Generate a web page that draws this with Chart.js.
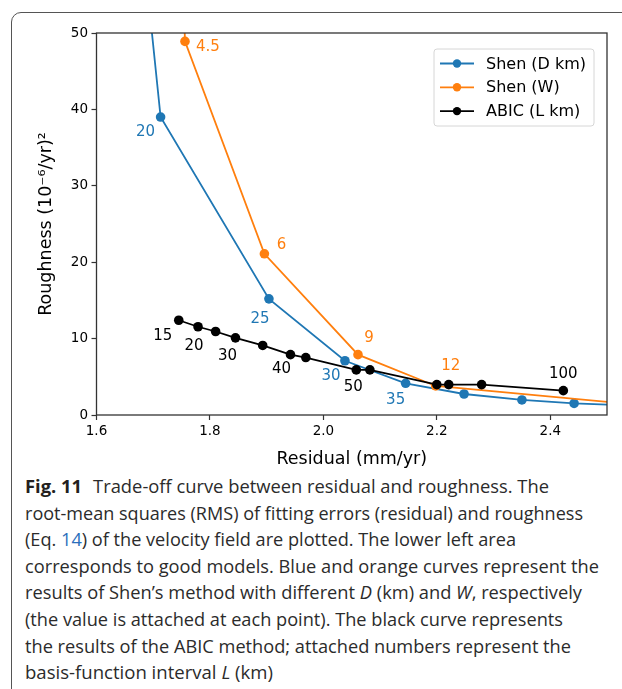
<!DOCTYPE html>
<html>
<head>
<meta charset="utf-8">
<script src="https://cdn.jsdelivr.net/npm/chart.js@4.4.1/dist/chart.umd.min.js"></script>
<style>
  html, body { margin: 0; padding: 0; background: #fff; }
  body { width: 622px; height: 689px; position: relative; overflow: hidden; }
  #frame {
    position: absolute; left: 11px; top: 12px; width: 700px; height: 800px;
    border: 1.3px solid #555; border-radius: 10px; box-sizing: border-box;
  }
  #wrap { position: absolute; left: 0; top: 0; width: 622px; height: 470px; }
  #caption {
    position: absolute; left: 25px; top: 473px;
    font-family: "Open Sans", "Noto Sans", sans-serif; font-size: 17.5px;
    line-height: 26.6px; color: #2b2b2b; white-space: nowrap;
  }
  #caption .ln { display: block; height: 26.6px; }
  #caption .ln span.in { display: inline-block; transform-origin: 0 50%; }
  #caption b { font-weight: 700; margin-right: 6px; color: #231f20; }
  #caption .ref { color: #2a6ebb; }
</style>
</head>
<body>
<div id="frame"></div>
<div id="wrap"><canvas id="chart" width="622" height="470"></canvas></div>
<div id="caption">
  <div class="ln"><span class="in"><b>Fig. 11</b> Trade-off curve between residual and roughness. The</span></div>
  <div class="ln"><span class="in">root-mean squares (RMS) of fitting errors (residual) and roughness</span></div>
  <div class="ln"><span class="in">(Eq. <span class="ref">14</span>) of the velocity field are plotted. The lower left area</span></div>
  <div class="ln"><span class="in">corresponds to good models. Blue and orange curves represent the</span></div>
  <div class="ln"><span class="in">results of Shen’s method with different <i>D</i> (km) and <i>W</i>, respectively</span></div>
  <div class="ln"><span class="in">(the value is attached at each point). The black curve represents</span></div>
  <div class="ln"><span class="in">the results of the ABIC method; attached numbers represent the</span></div>
  <div class="ln"><span class="in">basis-function interval <i>L</i> (km)</span></div>
</div>
<script>
// Shen's method, different D (km)
const shenDX = [1.670, 1.713, 1.904, 2.038, 2.145, 2.248, 2.350, 2.442, 2.560];
const shenDY = [70.0, 39.0, 15.2, 7.1, 4.15, 2.75, 1.97, 1.52, 1.18];
const shenDLabels = ['', '20', '25', '30', '35', '', '', '', ''];

// Shen's method, different W
const shenWX = [1.745, 1.756, 1.896, 2.061, 2.198, 2.620];
const shenWY = [75.0, 48.9, 21.1, 7.9, 3.8, 0.9];
const shenWLabels = ['', '4.5', '6', '9', '12', ''];

// ABIC method, basis-function interval L (km)
const abicX = [1.745, 1.779, 1.810, 1.845, 1.893, 1.942, 1.969, 2.058, 2.082, 2.200, 2.221, 2.279, 2.423];
const abicY = [12.4, 11.55, 10.93, 10.1, 9.1, 7.9, 7.52, 5.9, 5.9, 3.98, 3.98, 3.98, 3.19];
const abicLabels = ['15', '20', '', '30', '', '40', '', '50', '', '', '', '', '100'];

const xTicks = [1.6, 1.8, 2.0, 2.2, 2.4];
const yTicks = [0, 10, 20, 30, 40, 50];

// label offsets in px from the marker (dx, dy)
const shenDOffsets = [[0,0],[-15,15],[-9,20],[-14,15],[-10,17],[0,0],[0,0],[0,0],[0,0]];
const shenWOffsets = [[0,0],[23,6],[17,-9],[11,-17],[15,-20],[0,0]];
const abicOffsets = [[-16,16],[-4,19],[0,0],[-8,18],[0,0],[-9,14],[0,0],[-3,17],[0,0],[0,0],[0,0],[0,0],[0,-17]];

const BLUE = '#1f77b4', ORANGE = '#ff7f0e', BLACK = '#000000';
const FONT = '"DejaVu Sans", sans-serif';

function pts(xs, ys) { return xs.map((x, i) => ({ x: x, y: ys[i] })); }

function series(label, xs, ys, color, order, labels, offsets) {
  return {
    label: label,
    data: pts(xs, ys),
    showLine: true,
    borderColor: color,
    backgroundColor: color,
    borderWidth: 1.8,
    pointRadius: 4.8,
    pointHoverRadius: 4.8,
    pointBorderWidth: 0,
    clip: 0,
    order: order,
    ptLabels: labels,
    ptOffsets: offsets
  };
}

const pointLabels = {
  id: 'pointLabels',
  afterDatasetsDraw(chart) {
    const ctx = chart.ctx;
    ctx.save();
    ctx.font = '15px ' + FONT;
    ctx.textAlign = 'center';
    ctx.textBaseline = 'middle';
    chart.data.datasets.forEach((ds, di) => {
      const meta = chart.getDatasetMeta(di);
      ctx.fillStyle = ds.borderColor;
      ds.ptLabels.forEach((t, i) => {
        if (!t) return;
        const p = meta.data[i];
        ctx.fillText(t, p.x + ds.ptOffsets[i][0], p.y + ds.ptOffsets[i][1]);
      });
    });
    // spines
    const a = chart.chartArea;
    ctx.strokeStyle = '#333';
    ctx.lineWidth = 1.3;
    ctx.strokeRect(a.left, a.top, a.right - a.left, a.bottom - a.top);
    ctx.restore();
  },
  afterDraw(chart) {
    const ctx = chart.ctx, a = chart.chartArea;
    const w = 160, h = 77;
    const bx = a.right - 13 - w, by = a.top + 16;
    ctx.save();
    ctx.beginPath();
    ctx.roundRect(bx, by, w, h, 3);
    ctx.fillStyle = 'rgba(255,255,255,0.8)';
    ctx.fill();
    ctx.strokeStyle = '#d6d6d6';
    ctx.lineWidth = 1;
    ctx.stroke();
    const entries = [chart.data.datasets[2], chart.data.datasets[1], chart.data.datasets[0]];
    ctx.font = '16px ' + FONT;
    ctx.textBaseline = 'middle';
    ctx.textAlign = 'left';
    entries.forEach((ds, i) => {
      const y = by + 14.5 + i * 23.8;
      ctx.strokeStyle = ds.borderColor;
      ctx.lineWidth = 1.8;
      ctx.beginPath();
      ctx.moveTo(bx + 6, y);
      ctx.lineTo(bx + 40, y);
      ctx.stroke();
      ctx.fillStyle = ds.borderColor;
      ctx.beginPath();
      ctx.arc(bx + 23, y, 4.2, 0, Math.PI * 2);
      ctx.fill();
      ctx.fillStyle = '#000';
      ctx.fillText(ds.label, bx + 52, y + 1);
    });
    ctx.restore();
  }
};

new Chart(document.getElementById('chart'), {
  type: 'scatter',
  data: {
    datasets: [
      series('ABIC (L km)', abicX, abicY, BLACK, 1, abicLabels, abicOffsets),
      series('Shen (W)', shenWX, shenWY, ORANGE, 2, shenWLabels, shenWOffsets),
      series('Shen (D km)', shenDX, shenDY, BLUE, 3, shenDLabels, shenDOffsets)
    ]
  },
  options: {
    responsive: false,
    animation: false,
    events: [],
    layout: { padding: { top: 33, right: 15, left: 0, bottom: 0 } },
    plugins: { legend: { display: false }, tooltip: { enabled: false } },
    scales: {
      x: {
        type: 'linear', min: 1.6, max: 2.5,
        afterBuildTicks: s => { s.ticks = xTicks.map(v => ({ value: v })); },
        afterFit: s => { s.height = 55; },
        grid: { drawOnChartArea: false, drawTicks: true, tickLength: 5, tickColor: '#333', tickWidth: 1.2 },
        border: { display: false },
        ticks: { padding: 3.5, color: '#000', font: { family: FONT, size: 13.5 }, maxRotation: 0,
                 callback: v => Number(v).toFixed(1) },
        title: { display: true, text: 'Residual (mm/yr)', color: '#000',
                 font: { family: FONT, size: 17.5, lineHeight: 1.2 }, padding: { top: 4.5, bottom: 0 } }
      },
      y: {
        type: 'linear', min: 0, max: 50,
        afterBuildTicks: s => { s.ticks = yTicks.map(v => ({ value: v })); },
        afterFit: s => { s.width = 96.5; },
        grid: { drawOnChartArea: false, drawTicks: true, tickLength: 5, tickColor: '#333', tickWidth: 1.2 },
        border: { display: false },
        ticks: { padding: 3.5, color: '#000', font: { family: FONT, size: 13.5 } },
        title: { display: true, text: 'Roughness (10⁻⁶/yr)²', color: '#000',
                 font: { family: FONT, size: 17.5, lineHeight: 1.2 }, padding: { top: 36, bottom: 0 } }
      }
    }
  },
  plugins: [pointLabels]
});

// fit caption lines to the reference line lengths
const lineWidths = [524, 558, 491, 574, 557, 538, 546, 248];
document.querySelectorAll('#caption .ln span.in').forEach((el, i) => {
  const w = el.getBoundingClientRect().width;
  el.style.transform = 'scaleX(' + (lineWidths[i] / w) + ')';
});
</script>
</body>
</html>
